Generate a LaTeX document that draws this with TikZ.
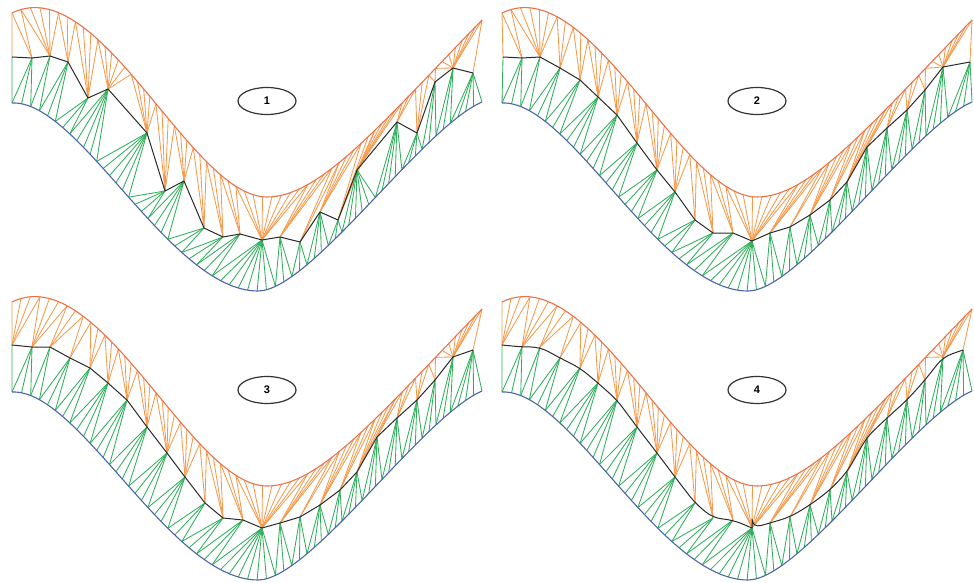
\documentclass[tikz,border=0pt]{standalone}
\usepackage{fontspec}
\setmainfont{Liberation Sans}
\usetikzlibrary{decorations.markings,shapes.geometric}

\definecolor{upperline}{HTML}{EA7248}
\definecolor{upperrungc}{HTML}{F49A4C}
\definecolor{lowerline}{HTML}{4A66A6}
\definecolor{lowerrungc}{HTML}{30AE5C}
\definecolor{spinec}{HTML}{2A2A2A}

\tikzset{
  upperrung/.style={draw=upperrungc, line width=0.85pt},
  lowerrung/.style={draw=lowerrungc, line width=0.85pt},
  uppercurve/.style={draw=upperline, line width=1.1pt},
  lowercurve/.style={draw=lowerline, line width=1.1pt},
  spine/.style={draw=spinec, line width=1pt, line join=round},
  tag/.style={ellipse, draw=black!80, line width=1.2pt, minimum width=58pt,
    minimum height=27pt, inner sep=0pt, font=\fontsize{11}{13}\selectfont\bfseries}
}

% the two boundary curves of every strip
\def\upperpath{(12,13) .. controls (100,-30) and (190,197) .. (267,197) .. controls (320,197) and (380,125) .. (482,20)}
\def\lowerpath{(12,103) .. controls (80,100) and (170,291) .. (258,291) .. controls (310,291) and (422,128) .. (482,102)}

% horizontal lead of the rungs along each curve (x / shift pairs)
\def\uppershiftA{12/0,25/12,30/15,67/-8,80/-5,200/-5,240/13,325/-50,345/-35,400/-28,420/-10,440/4,482/-20}
\def\uppershiftB{12/0,45/-24,80/-28,120/-5,200/-5,240/13,325/-50,345/-35,400/-28,420/-10,440/4,482/-20}
\def\lowershift{12/0,40/10,60/25,190/25,215/38,280/-10,300/0,440/0,455/9,482/0}

\newcount\stI
\newcount\stJ

% evenly spaced named samples along a path: #1-1 ... #1-(#3+1)
\newcommand\samplepath[4]{%
  \pgfmathsetmacro\stepfrac{1/#3}%
  \path[decorate, decoration={markings,
      mark=between positions 0 and 0.9999 step \stepfrac with
      {\coordinate (#1-\pgfkeysvalueof{/pgf/decoration/mark info/sequence number});}}] #2;
  \pgfmathtruncatemacro\endidx{#3+1}%
  \coordinate (#1-\endidx) at #4;
}

% vertices of the middle polyline
\newcommand\placespine[2]{%
  \foreach \px/\py [count=\n] in {#2}{\coordinate (#1-\n) at (\px,\py); \xdef\spinecount{\n}}%
}

% piecewise linear lookup in a table macro #1: result in \shiftres
\newcommand\shiftat[2]{%
  \gdef\shiftres{0}\gdef\shprevx{0}\gdef\shprevs{0}%
  \foreach \tx/\ts in #1{%
    \ifdim #2pt<\tx pt
      \ifdim #2pt<\shprevx pt \else
        \pgfmathsetmacro\tmpv{\shprevs+(\ts-\shprevs)/(\tx-\shprevx)*(#2-\shprevx)}%
        \xdef\shiftres{\tmpv}%
      \fi
    \fi
    \xdef\shprevx{\tx}\xdef\shprevs{\ts}}%
  \ifdim #2pt<\shprevx pt\else \xdef\shiftres{\shprevs}\fi
}

% ordering keys of the curve samples
\newcommand\loadcurve[3]{%
  \foreach \i in {1,...,#2}{%
    \pgfpointanchor{#1-\i}{center}\pgfgetlastxy{\tmpx}{\tmpy}%
    \pgfmathsetmacro\xnum{\tmpx}%
    \shiftat{#3}{\xnum}%
    \pgfmathsetmacro\kv{\xnum+\shiftres}%
    \expandafter\xdef\csname #1@k@\i\endcsname{\kv}}%
}

% ordering keys of the polyline vertices: midpoint with the previous vertex
\newcommand\loadspine[2]{%
  \foreach \i in {1,...,#2}{%
    \pgfpointanchor{#1-\i}{center}\pgfgetlastxy{\tmpx}{\tmpy}%
    \pgfmathsetmacro\xnum{\tmpx}%
    \ifnum\i=1 \xdef\prevxnum{\xnum}\fi
    \pgfmathsetmacro\kv{(\xnum+\prevxnum)/2}%
    \expandafter\xdef\csname #1@k@\i\endcsname{\kv}%
    \xdef\prevxnum{\xnum}}%
}

% rungs between a sampled curve (#1, #2 points) and the polyline (#3, #4 points)
\newcommand\stitch[5]{%
  \global\stI=1 \global\stJ=1
  \draw[#5] (#1-1) -- (#3-1);
  \pgfmathtruncatemacro\nsteps{#2+#4-2}%
  \foreach \k in {1,...,\nsteps}{%
    \ifnum\stI=#2\relax \global\advance\stJ by 1
    \else\ifnum\stJ=#4\relax \global\advance\stI by 1
    \else
      \pgfmathtruncatemacro\ni{\stI+1}\pgfmathtruncatemacro\nj{\stJ+1}%
      \edef\ko{\csname #1@k@\ni\endcsname}\edef\km{\csname #3@k@\nj\endcsname}%
      \ifdim\ko pt<\km pt \global\advance\stI by 1 \else \global\advance\stJ by 1 \fi
    \fi\fi
    \edef\ii{\the\stI}\edef\jj{\the\stJ}%
    \draw[#5] (#1-\ii) -- (#3-\jj);
  }%
}

% one strip: #1 tag, #2 prefix, #3 polyline, #4 upper shift table, #5 corner index (0: straight polyline)
\newcommand\strippanel[5]{%
  \samplepath{#2u}{\upperpath}{64}{(482,20)}%
  \samplepath{#2l}{\lowerpath}{64}{(482,102)}%
  \placespine{#2m}{#3}%
  \edef\mcount{\spinecount}%
  \loadcurve{#2u}{65}{#4}\loadcurve{#2l}{65}{\lowershift}\loadspine{#2m}{\mcount}%
  \stitch{#2u}{65}{#2m}{\mcount}{upperrung}%
  \stitch{#2l}{65}{#2m}{\mcount}{lowerrung}%
  \draw[uppercurve] \upperpath;
  \draw[lowercurve] \lowerpath;
  \ifnum#5=0
    \draw[spine] (#2m-1) \foreach \j in {2,...,\mcount}{ -- (#2m-\j)};
  \else
    \draw[spine, rounded corners=9pt] (#2m-1) \foreach \j in {2,...,#5}{ -- (#2m-\j)};
    \draw[spine, rounded corners=9pt] (#2m-#5) \foreach \j in {#5,...,\mcount}{ -- (#2m-\j)};
  \fi
  \node[tag] (#2tag) at (267,101) {#1};
}

\begin{document}
\begin{tikzpicture}[x=1pt,y=-1pt]
\useasboundingbox (0,0) rectangle (974,583);

\begin{scope}
  \strippanel{1}{A}{12/57,32/58,50/56,68/62,88/98,108/89,147/133,165/191,184/181,204/228,223/237,240/234,262/240,280/237,300/242,320/212,338/220,357/170,397/122,417/133,435/82,453/68,473/73}{\uppershiftA}{0}
\end{scope}

\begin{scope}[shift={(490,0)}]
  \strippanel{2}{B}{13/57,32/58,50/57,70/68,90/80,108/97,127/115,147/143,167/170,185/192,205/220,223/233,243/233,262/241,280/233,300/227,320/215,340/200,357/182,377/147,397/128,417/110,435/90,453/67,480/62}{\uppershiftA}{0}
\end{scope}

\begin{scope}[shift={(0,289)}]
  \strippanel{3}{C}{12/56,32/58,50/58,70/69,90/79,108/94,127/111,147/138,167/164,185/188,205/214,223/229,243/231,262/239,280/234,300/228,320/216,340/201,357/183,377/148,397/129,417/111,435/91,453/68,473/61}{\uppershiftB}{0}
\end{scope}

\begin{scope}[shift={(490,289)}]
  \strippanel{4}{D}{12/56,32/58,50/58,70/69,90/79,108/94,127/111,147/138,167/164,185/188,205/214,223/229,243/231,262/239,280/234,300/228,320/216,340/201,357/183,377/148,397/129,417/111,435/91,453/68,473/61}{\uppershiftB}{14}
\end{scope}
\end{tikzpicture}
\end{document}
